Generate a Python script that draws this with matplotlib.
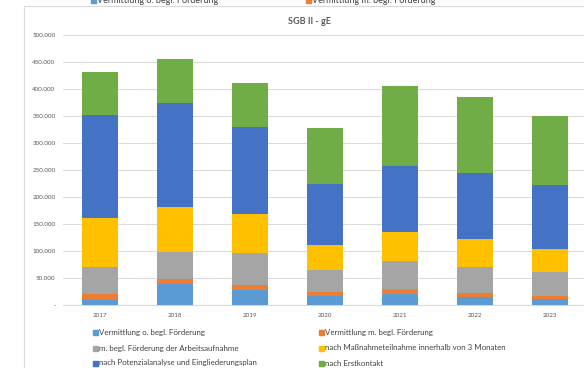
import matplotlib.pyplot as plt
from matplotlib.patches import Rectangle
from matplotlib.lines import Line2D

plt.rcParams['font.family'] = ['Lato', 'DejaVu Sans']

#---------Daten--------
jahre = ['2017', '2018', '2019', '2020', '2021', '2022', '2023']
ohne_foerderung = [9000, 38000, 27800, 16700, 19800, 14000, 10500]
mit_foerderung = [11000, 10800, 9200, 6800, 9200, 7600, 6800]
arbeitsaufnahme = [50000, 50000, 58700, 41300, 52500, 49400, 43200]
massnahme = [90500, 83200, 72800, 46200, 54300, 51800, 43200]
potenzialanalyse = [191500, 191500, 160500, 112500, 121200, 122200, 118300]
erstkontakt = [80000, 81500, 82000, 104500, 149000, 140800, 128000]

reihen_namen = ['Vermittlung o. begl. Förderung',
                'Vermittlung m. begl. Förderung',
                'm. begl. Förderung der Arbeitsaufnahme',
                'nach Maßnahmeteilnahme innerhalb von 3 Monaten',
                'nach Potenzialanalyse und Eingliederungsplan',
                'nach Erstkontakt']
reihen = [ohne_foerderung, mit_foerderung, arbeitsaufnahme,
          massnahme, potenzialanalyse, erstkontakt]
farben = ['#5B9BD5', '#ED7D31', '#A5A5A5', '#FFC000', '#4472C4', '#70AD47']
y_ticks = [0, 50000, 100000, 150000, 200000, 250000, 300000, 350000, 400000, 450000, 500000]

W, H = 584, 368
fig = plt.figure(figsize=(W / 100, H / 100), dpi=100)
fig.patch.set_facecolor('white')

def fx(px):
    return px / W

def fy(py):
    return 1 - py / H

ax = fig.add_axes([fx(62.5), fy(305), 525 / W, 270 / H])

x = list(range(len(jahre)))
unten = [0] * len(jahre)
for werte, farbe, name in zip(reihen, farben, reihen_namen):
    ax.bar(x, werte, width=0.49, bottom=unten, color=farbe, label=name, zorder=3)
    unten = [u + w for u, w in zip(unten, werte)]

ax.set_xlim(-0.5, 6.5)
ax.set_ylim(0, 500000)
ax.set_yticks(y_ticks)
ax.set_yticklabels(['-'] + ['{:,}'.format(t).replace(',', '.') for t in y_ticks[1:]])
ax.set_xticks(x)
ax.set_xticklabels(jahre)
ax.tick_params(axis='both', length=0, labelsize=4.5, labelcolor='#595959')
ax.tick_params(axis='y', pad=5)
ax.tick_params(axis='x', pad=6)
ax.grid(axis='y', color='#D9D9D9', linewidth=0.7, zorder=0)
for s in ['top', 'right', 'left']:
    ax.spines[s].set_visible(False)
ax.spines['bottom'].set_color('#D9D9D9')
ax.spines['bottom'].set_linewidth(0.8)
ax.set_facecolor('none')

# Rahmen des Diagrammbereichs
fig.add_artist(Line2D([fx(24), fx(24)], [fy(6), 0], color='#D9D9D9', linewidth=0.8))
fig.add_artist(Line2D([fx(24), 1], [fy(6), fy(6)], color='#D9D9D9', linewidth=0.8))

fig.text(fx(309), fy(21), 'SGB II - gE', ha='center', va='center',
         fontsize=6.5, fontweight='bold', color='#595959')

# Legende oberhalb (am Rand abgeschnitten)
for i, xpos in enumerate([93, 308]):
    fig.add_artist(Rectangle((fx(xpos - 2.5), fy(3)), fx(5), 5 / H,
                             transform=fig.transFigure, color=farben[i]))
    fig.text(fx(xpos + 4), fy(0.5), reihen_namen[i], ha='left', va='center',
             fontsize=6.5, color='#404040')

# Legende unten, zwei Spalten
spalten_x = [95, 321]
zeilen_y = [332, 348, 363]
for k, name in enumerate(reihen_namen):
    xpos = spalten_x[k % 2]
    ypos = zeilen_y[k // 2]
    fig.add_artist(Rectangle((fx(xpos - 2.5), fy(ypos + 2.5)), fx(5), 5 / H,
                             transform=fig.transFigure, color=farben[k]))
    fig.text(fx(xpos + 4), fy(ypos), name, ha='left', va='center',
             fontsize=5.7, color='#404040')

fig.savefig('out.png', dpi=100)
